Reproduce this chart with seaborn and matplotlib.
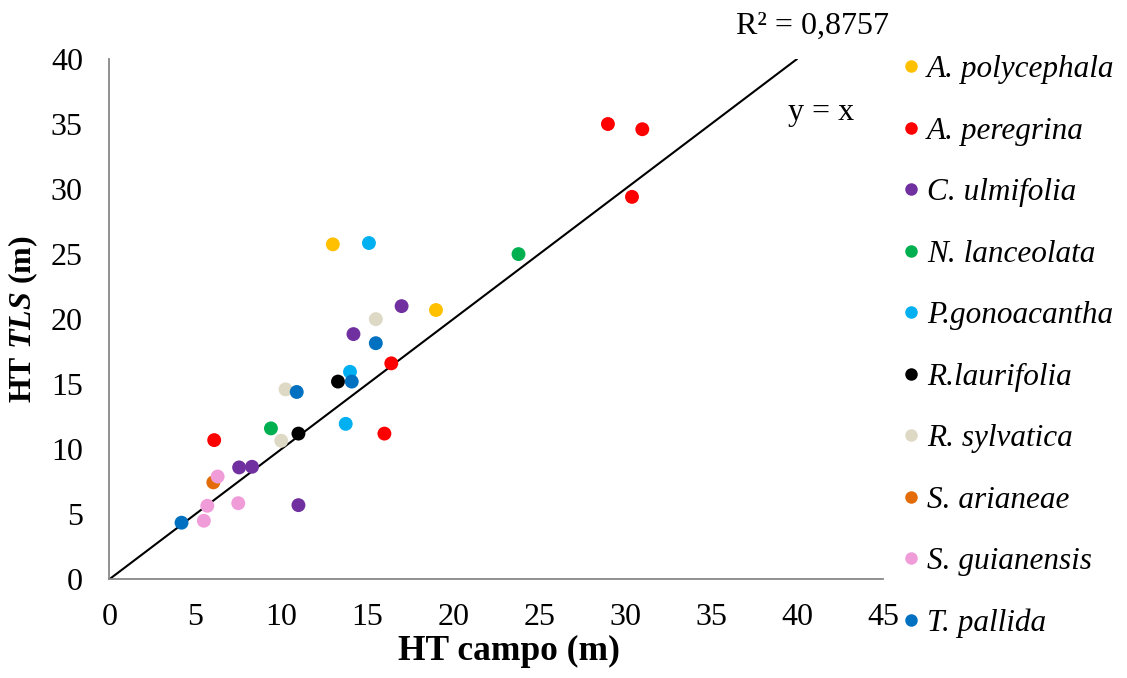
import matplotlib
matplotlib.use("Agg")
import matplotlib.pyplot as plt
import seaborn as sns
import pandas as pd
from matplotlib.lines import Line2D

# Species, in legend order, with their colours
species = ["A. polycephala", "A. peregrina", "C. ulmifolia", "N. lanceolata",
           "P.gonoacantha", "R.laurifolia", "R. sylvatica", "S. arianeae",
           "S. guianensis", "T. pallida"]
colors = ["#FFC000", "#FF0000", "#7030A0", "#00B050", "#00B0F0",
          "#000000", "#DDD9C4", "#E36C09", "#F09CD8", "#0070C0"]

# Field height vs. TLS height (m) for each tree
ht_campo = {
    "A. polycephala": [13.0, 19.0],
    "A. peregrina":   [6.1, 16.0, 16.4, 29.0, 31.0, 30.4],
    "C. ulmifolia":   [7.55, 8.3, 11.0, 14.2, 17.0],
    "N. lanceolata":  [9.4, 23.8],
    "P.gonoacantha":  [13.75, 14.0, 15.1],
    "R.laurifolia":   [11.0, 13.3],
    "R. sylvatica":   [10.0, 10.25, 15.5],
    "S. arianeae":    [6.05],
    "S. guianensis":  [5.5, 5.7, 7.5, 6.3],
    "T. pallida":     [4.2, 10.9, 14.1, 15.5],
}
ht_tls = {
    "A. polycephala": [25.75, 20.7],
    "A. peregrina":   [10.7, 11.2, 16.6, 35.0, 34.6, 29.4],
    "C. ulmifolia":   [8.6, 8.65, 5.7, 18.85, 21.0],
    "N. lanceolata":  [11.6, 25.0],
    "P.gonoacantha":  [11.95, 15.95, 25.85],
    "R.laurifolia":   [11.2, 15.2],
    "R. sylvatica":   [10.65, 14.6, 20.0],
    "S. arianeae":    [7.45],
    "S. guianensis":  [4.5, 5.65, 5.85, 7.9],
    "T. pallida":     [4.35, 14.4, 15.2, 18.15],
}

x_ticks = [0, 5, 10, 15, 20, 25, 30, 35, 40, 45]
y_ticks = [0, 5, 10, 15, 20, 25, 30, 35, 40]
ref_line = [0, 40]

rows = []
for sp in species:
    for xv, yv in zip(ht_campo[sp], ht_tls[sp]):
        rows.append({"campo": xv, "tls": yv, "especie": sp})
df = pd.DataFrame(rows)

sns.set_style("white")
plt.rcParams["font.family"] = ["Liberation Serif", "DejaVu Serif"]
plt.rcParams["text.color"] = "black"
plt.rcParams["axes.labelcolor"] = "black"
plt.rcParams["mathtext.fontset"] = "custom"
plt.rcParams["mathtext.rm"] = "Liberation Serif"
plt.rcParams["mathtext.it"] = "Liberation Serif:italic"
plt.rcParams["mathtext.bf"] = "Liberation Serif:bold"
plt.rcParams["mathtext.bfit"] = "Liberation Serif:bold:italic"

fig = plt.figure(figsize=(11.27, 6.78), dpi=100)
ax = fig.add_axes([0.097, 0.1456, 0.6865, 0.7674])

palette = dict(zip(species, colors))
sns.scatterplot(data=df, x="campo", y="tls", hue="especie", hue_order=species,
                palette=palette, s=100, linewidth=0, ax=ax, legend=False,
                zorder=3)

# 1:1 reference line
ax.plot(ref_line, ref_line, color="black", linewidth=1.5, zorder=2)

ax.set_xlim(0, 45)
ax.set_ylim(0, 40)
ax.set_xticks(x_ticks)
ax.set_yticks(y_ticks)
ax.tick_params(axis="both", labelsize=23, colors="#888888", labelcolor="black",
               direction="out", length=6, width=1.2)
ax.tick_params(axis="x", pad=11)
ax.tick_params(axis="y", pad=13)
for side in ["top", "right"]:
    ax.spines[side].set_visible(False)
for side in ["left", "bottom"]:
    ax.spines[side].set_color("#888888")
    ax.spines[side].set_linewidth(1.3)

ax.set_xlabel("HT campo (m)", fontsize=25.5, fontweight="bold", labelpad=2,
              color="black")
ax.xaxis.label.set_x(0.517)
ax.set_ylabel(r"$\mathbf{HT}$ $\mathbfit{TLS}$ $\mathbf{(m)}$", fontsize=23,
              labelpad=8, color="black")

ax.text(40.9, 42.5, "R² = 0,8757", fontsize=23, ha="center", va="center",
        clip_on=False)
ax.text(41.4, 35.9, "y = x", fontsize=23, ha="center", va="center",
        clip_on=False)

handles = [Line2D([0], [0], marker="o", linestyle="", markersize=9,
                  markerfacecolor=c, markeredgewidth=0) for c in colors]
leg = fig.legend(handles, species, loc="upper left",
                 bbox_to_anchor=(0.7835, 0.937), frameon=False,
                 prop={"family": "Liberation Serif", "style": "italic",
                       "size": 22.5},
                 labelspacing=1.04, handletextpad=0.0, handlelength=1.0,
                 borderaxespad=0)

fig.savefig("out.png", dpi=100)
